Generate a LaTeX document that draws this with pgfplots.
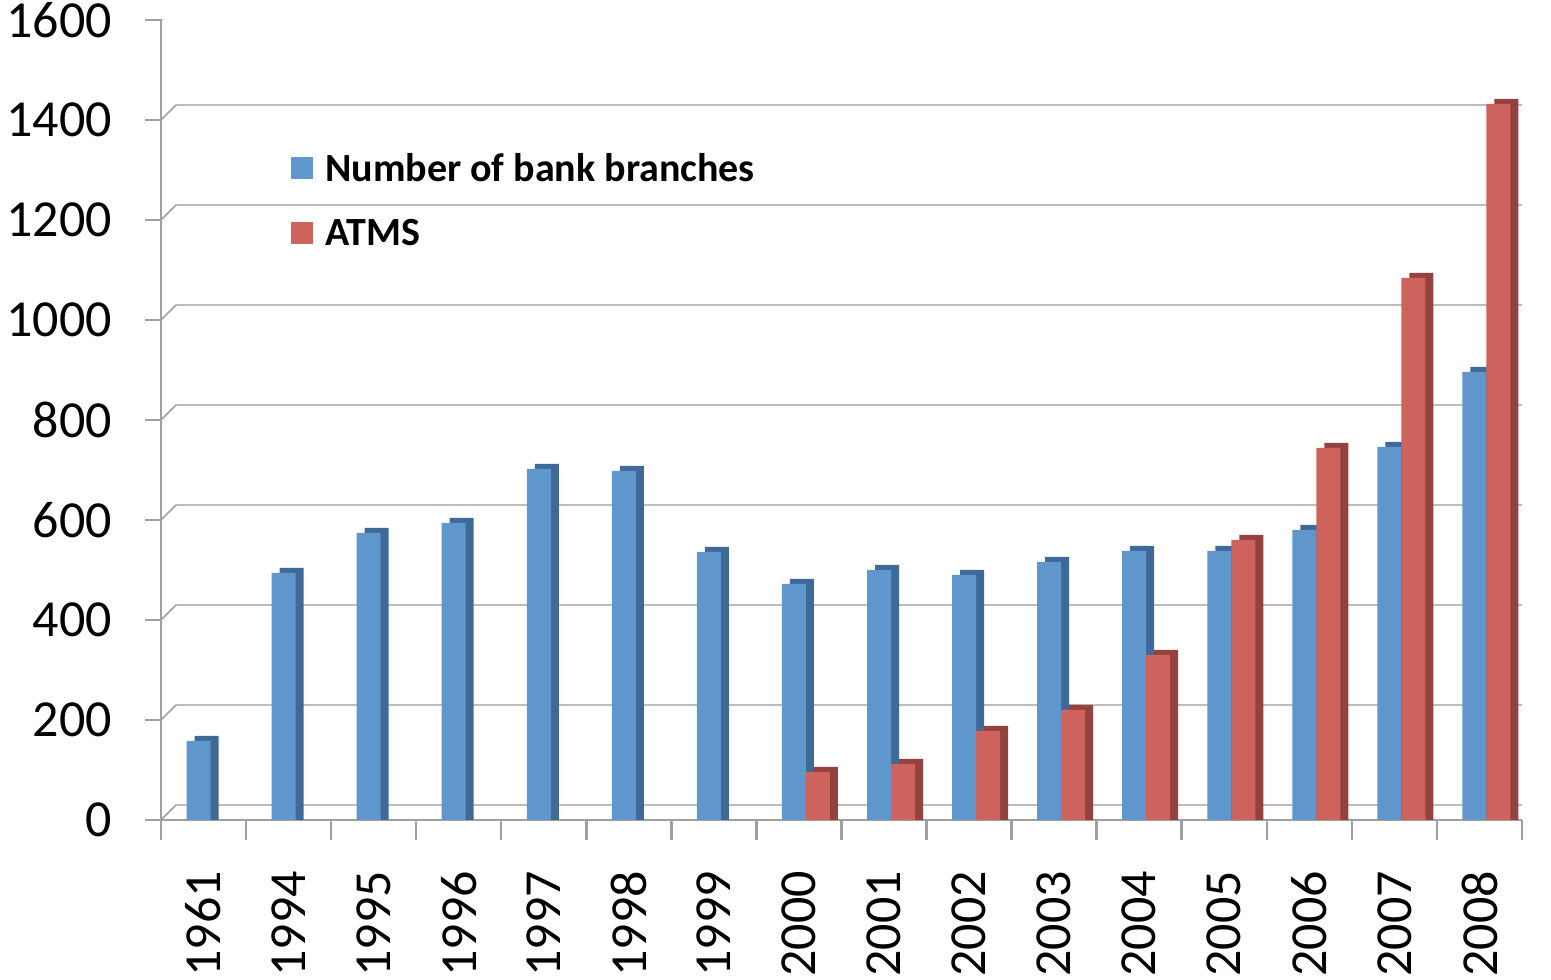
\documentclass[border=0pt]{standalone}
\usepackage{pgfplots}
\pgfplotsset{compat=1.18}
\usepackage{pgfplotstable}
\usepackage{fontspec}
\setmainfont{Carlito}
\definecolor{bfront}{HTML}{5F96CB}
\definecolor{bside}{HTML}{3F6A98}
\definecolor{rfront}{HTML}{CD635C}
\definecolor{rside}{HTML}{944240}
\definecolor{gridc}{HTML}{BDBDBD}
\definecolor{axc}{HTML}{A0A0A0}

\pgfplotstableread{
x b r
0 158 nan
1 494 nan
2 574 nan
3 594 nan
4 702 nan
5 698 nan
6 536 nan
7 472 96
8 500 112
9 490 178
10 516 220
11 538 330
12 538 560
13 580 744
14 746 1084
15 896 1432
}\data

\begin{document}
\begin{tikzpicture}
\path[use as bounding box] (0,0) rectangle (1551pt,980pt);
\begin{axis}[
  at={(161pt,160pt)}, anchor=south west,
  scale only axis, width=1361pt, height=800pt,
  xmin=-0.5, xmax=15.5, ymin=0, ymax=1600,
  axis x line*=bottom, axis y line*=left,
  axis line style={axc, line width=2.5pt, -},
  xtick={0,...,15},
  xticklabels={1961,1994,1995,1996,1997,1998,1999,2000,2001,2002,2003,2004,2005,2006,2007,2008},
  minor xtick={-0.5,0.5,...,15.5},
  ytick={0,200,...,1600},
  tick style={axc, line width=2.5pt},
  major x tick style={draw=none},
  tick align=outside,
  major tick length=16pt, minor tick length=20pt,
  tick label style={font=\fontsize{52}{62}\selectfont},
  /pgf/number format/assume math mode=true,
  /pgf/number format/1000 sep={},
  yticklabel style={anchor=east, inner sep=0pt, xshift=-33pt},
  xticklabel style={rotate=90, anchor=east, inner sep=0pt, xshift=-35pt},
  legend cell align=left,
  legend style={at={(0.0955,0.775)}, anchor=west, draw=none, fill=none,
    font=\bfseries\fontsize{40}{48}\selectfont, row sep=32pt, inner sep=0pt,
    /tikz/every odd column/.append style={column sep=10pt}},
]
\pgfplotsinvokeforeach{0,200,...,1600}{
  \draw[gridc, line width=2pt] ([xshift=15pt,yshift=15pt]axis cs:-0.5,#1) -- ([xshift=18pt,yshift=15pt]axis cs:15.5,#1);
  \draw[axc, line width=1.5pt] (axis cs:-0.5,#1) -- ++(15pt,15pt);
}
\draw[axc, line width=2pt] (axis cs:15.5,0) -- ++(15pt,15pt);

\addplot[ybar, bar width=24pt, bar shift=3pt, fill=bside, draw=none, forget plot]
  table[x=x, y expr=\thisrow{b}+10] {\data};
\addplot[ybar, bar width=24pt, bar shift=-5pt, fill=bfront, draw=none,
  legend image code/.code={\fill[bfront] (0pt,-11pt) rectangle (22pt,11pt);}]
  table[x=x, y=b] {\data};
\addlegendentry{Number of bank branches}
\addplot[ybar, bar width=24pt, bar shift=27pt, fill=rside, draw=none, forget plot]
  table[x=x, y expr=\thisrow{r}+10] {\data};
\addplot[ybar, bar width=24pt, bar shift=19pt, fill=rfront, draw=none,
  legend image code/.code={\fill[rfront] (0pt,-11pt) rectangle (22pt,11pt);}]
  table[x=x, y=r] {\data};
\addlegendentry{ATMS}
\end{axis}
\end{tikzpicture}
\end{document}
